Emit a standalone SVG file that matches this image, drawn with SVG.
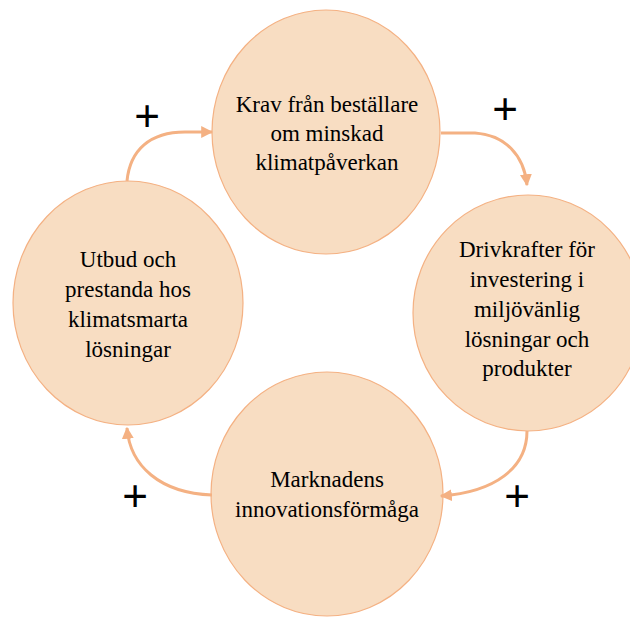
<svg xmlns="http://www.w3.org/2000/svg" width="630" height="617" viewBox="0 0 630 617">
  <defs>
    <style>
      .node { fill: #F8DDC2; stroke: #F4B183; stroke-width: 1.2; }
      .label { font-family: "Liberation Serif", "Times New Roman", serif; font-size: 23px; fill: #000; text-anchor: middle; }
      .link { fill: none; stroke: #F4B183; stroke-width: 3; }
      .sign { font-family: "Liberation Sans", Arial, sans-serif; font-size: 44px; fill: #000; text-anchor: middle; }
    </style>
    <marker id="head" viewBox="0 0 10 10" refX="9" refY="5" markerWidth="4" markerHeight="4" orient="auto" markerUnits="strokeWidth">
      <path d="M0,0 L10,5 L0,10 Z" fill="#F4B183"/>
    </marker>
  </defs>
  <rect width="630" height="617" fill="#fff"/>

  <g id="node-krav">
    <ellipse class="node" cx="326" cy="132" rx="114" ry="122"/>
    <text class="label" x="327" y="112">Krav från beställare</text>
    <text class="label" x="327" y="141">om minskad</text>
    <text class="label" x="327" y="170">klimatpåverkan</text>
  </g>

  <g id="node-drivkrafter">
    <ellipse class="node" cx="528" cy="313" rx="115" ry="118"/>
    <text class="label" x="527" y="257">Drivkrafter för</text>
    <text class="label" x="527" y="287">investering i</text>
    <text class="label" x="527" y="317">miljövänlig</text>
    <text class="label" x="527" y="347">lösningar och</text>
    <text class="label" x="527" y="376">produkter</text>
  </g>

  <g id="node-marknad">
    <ellipse class="node" cx="327" cy="494" rx="116" ry="122"/>
    <text class="label" x="327" y="487">Marknadens</text>
    <text class="label" x="327" y="517">innovationsförmåga</text>
  </g>

  <g id="node-utbud">
    <ellipse class="node" cx="128" cy="303" rx="115" ry="122"/>
    <text class="label" x="128" y="267">Utbud och</text>
    <text class="label" x="128" y="297">prestanda hos</text>
    <text class="label" x="128" y="327">klimatsmarta</text>
    <text class="label" x="128" y="357">lösningar</text>
  </g>

  <g id="connectors">
    <path class="link" marker-end="url(#head)" d="M127,181 C130,150 150,132 185,132 L212,132"/>
    <path class="link" marker-end="url(#head)" d="M441,133 L475,133 C505,135 524,155 527,185"/>
    <path class="link" marker-end="url(#head)" d="M527,431 C527,468 495,492 441,496"/>
    <path class="link" marker-end="url(#head)" d="M212,495 C160,493 130,466 127,428"/>
  </g>

  <g id="signs">
    <text class="sign" x="147" y="131">+</text>
    <text class="sign" x="505" y="124">+</text>
    <text class="sign" x="517" y="511">+</text>
    <text class="sign" x="135" y="511">+</text>
  </g>
</svg>
